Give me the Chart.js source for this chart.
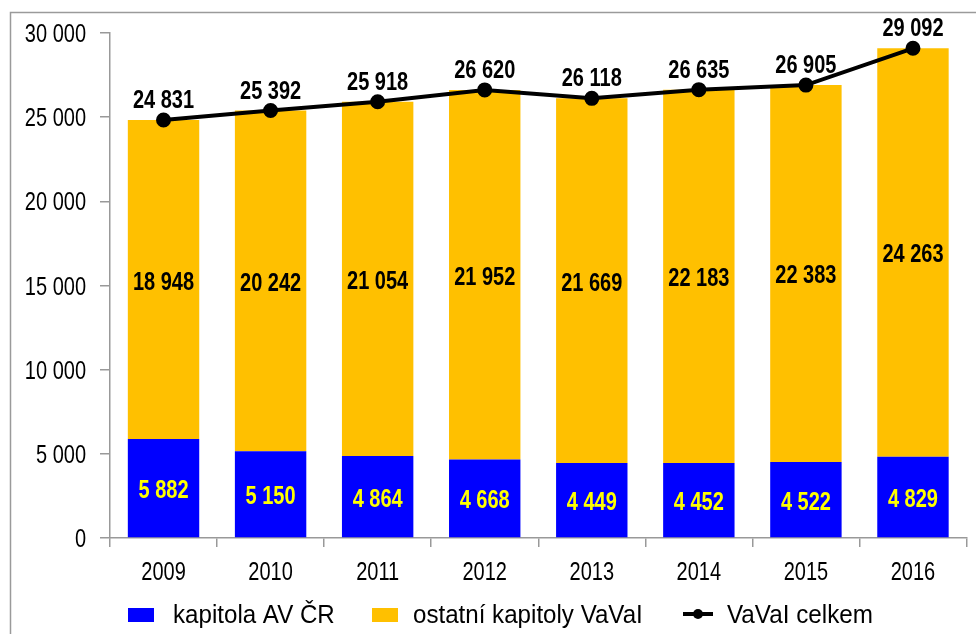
<!DOCTYPE html>
<html>
<head>
<meta charset="utf-8">
<script src="https://cdn.jsdelivr.net/npm/chart.js@4.4.1/dist/chart.umd.min.js"></script>
<style>
  html, body { margin: 0; padding: 0; background: #fff; }
  #wrap { width: 976px; height: 634px; position: relative; }
</style>
</head>
<body>
<div id="wrap"><canvas id="chart"></canvas></div>
<script>
// data
const years = ["2009", "2010", "2011", "2012", "2013", "2014", "2015", "2016"];
const kapitolaAV = [5882, 5150, 4864, 4668, 4449, 4452, 4522, 4829];
const ostatni = [18948, 20242, 21054, 21952, 21669, 22183, 22383, 24263];
const celkem = [24831, 25392, 25918, 26620, 26118, 26635, 26905, 29092];
const yTicks = [0, 5000, 10000, 15000, 20000, 25000, 30000];

const seriesNames = ["kapitola AV ČR", "ostatní kapitoly VaVaI", "VaVaI celkem"];
const BLUE = "#0000ff";
const GOLD = "#ffc000";
const FONT = "'Liberation Sans', Arial, sans-serif";
const NARROW = 0.8;   // fake Arial Narrow by squeezing

const fmt = n => String(n).replace(/\B(?=(\d{3})+(?!\d))/g, " ");

function squeezeText(ctx, text, x, y, align, sx) {
  ctx.save();
  ctx.translate(x, y);
  ctx.scale(sx, 1);
  ctx.textAlign = align;
  ctx.fillText(text, 0, 0);
  ctx.restore();
}

// frame around the picture
const framePlugin = {
  id: "frame",
  beforeDraw(chart) {
    const ctx = chart.ctx;
    ctx.save();
    ctx.strokeStyle = "#9a9a9a";
    ctx.lineWidth = 1.5;
    ctx.beginPath();
    ctx.moveTo(10.5, 634);
    ctx.lineTo(10.5, 12.5);
    ctx.lineTo(976, 12.5);
    ctx.stroke();
    ctx.restore();
  }
};

// tick labels in narrow type
const tickPlugin = {
  id: "narrowTicks",
  afterDraw(chart) {
    const ctx = chart.ctx;
    const xs = chart.scales.x, ys = chart.scales.y;
    ctx.save();
    ctx.fillStyle = "#000";
    ctx.font = "25px " + FONT;
    ctx.textBaseline = "alphabetic";
    yTicks.forEach(v => {
      squeezeText(ctx, fmt(v), 86, ys.getPixelForValue(v) + 9, "right", NARROW);
    });
    years.forEach((yr, i) => {
      squeezeText(ctx, yr, xs.getPixelForValue(i), 580, "center", NARROW);
    });
    ctx.restore();
  }
};

// value labels on bars and line
const labelPlugin = {
  id: "valueLabels",
  afterDatasetsDraw(chart) {
    const ctx = chart.ctx;
    ctx.save();
    ctx.textBaseline = "alphabetic";
    ctx.font = "bold 25px " + FONT;
    chart.data.datasets.forEach((ds, i) => {
      const meta = chart.getDatasetMeta(i);
      meta.data.forEach((el, j) => {
        const p = el.getProps(["x", "y", "base"], true);
        let y;
        if (ds.type === "line") {
          y = p.y - 21;
          ctx.fillStyle = "#000";
        } else {
          y = (p.y + p.base) / 2 + 1;
          ctx.fillStyle = i === 0 ? "#ffff00" : "#000";
        }
        squeezeText(ctx, fmt(ds.data[j]), p.x, y + 9, "center", NARROW);
      });
    });
    ctx.restore();
  }
};

// legend drawn under the axis
const legendPlugin = {
  id: "bottomLegend",
  afterDraw(chart) {
    const ctx = chart.ctx;
    const y = 614;
    ctx.save();
    ctx.font = "25px " + FONT;
    ctx.textBaseline = "alphabetic";
    ctx.fillStyle = BLUE;
    ctx.fillRect(128, 608, 26, 14);
    ctx.fillStyle = GOLD;
    ctx.fillRect(372, 608, 26, 14);
    ctx.strokeStyle = "#000";
    ctx.lineWidth = 4;
    ctx.beginPath();
    ctx.moveTo(683, y);
    ctx.lineTo(713, y);
    ctx.stroke();
    ctx.beginPath();
    ctx.arc(698, y, 5, 0, Math.PI * 2);
    ctx.fillStyle = "#000";
    ctx.fill();
    squeezeText(ctx, seriesNames[0], 173, 623, "left", 0.965);
    squeezeText(ctx, seriesNames[1], 413, 623, "left", 0.965);
    squeezeText(ctx, seriesNames[2], 727, 623, "left", 0.97);
    ctx.restore();
  }
};

new Chart(document.getElementById("chart"), {
  data: {
    labels: years,
    datasets: [
      { type: "bar", label: seriesNames[0], data: kapitolaAV, backgroundColor: BLUE, stack: "s", order: 2,
        barPercentage: 0.667, categoryPercentage: 1 },
      { type: "bar", label: seriesNames[1], data: ostatni, backgroundColor: GOLD, stack: "s", order: 2,
        barPercentage: 0.667, categoryPercentage: 1 },
      { type: "line", label: seriesNames[2], data: celkem, stack: "line", order: 1,
        borderColor: "#000", borderWidth: 4, pointRadius: 5.5, pointBackgroundColor: "#000",
        pointBorderColor: "#000", tension: 0 }
    ]
  },
  options: {
    responsive: true,
    maintainAspectRatio: false,
    animation: false,
    layout: { padding: { top: 33, right: 2, left: 0, bottom: 0 } },
    plugins: { legend: { display: false }, tooltip: { enabled: false } },
    scales: {
      x: {
        stacked: true,
        offset: true,
        afterFit(scale) { scale.height = 96; },
        grid: { offset: true, drawOnChartArea: false, tickLength: 9, color: "#999", lineWidth: 1.5 },
        border: { color: "#999", width: 1.5 },
        ticks: { display: false }
      },
      y: {
        stacked: true,
        min: 0,
        max: 30000,
        afterFit(scale) { scale.width = 110; },
        afterBuildTicks(scale) { scale.ticks = yTicks.map(v => ({ value: v })); },
        grid: { drawOnChartArea: false, tickLength: 10, color: "#999", lineWidth: 1.5 },
        border: { color: "#999", width: 1.5 },
        ticks: { display: false }
      }
    }
  },
  plugins: [framePlugin, tickPlugin, labelPlugin, legendPlugin]
});
</script>
</body>
</html>
